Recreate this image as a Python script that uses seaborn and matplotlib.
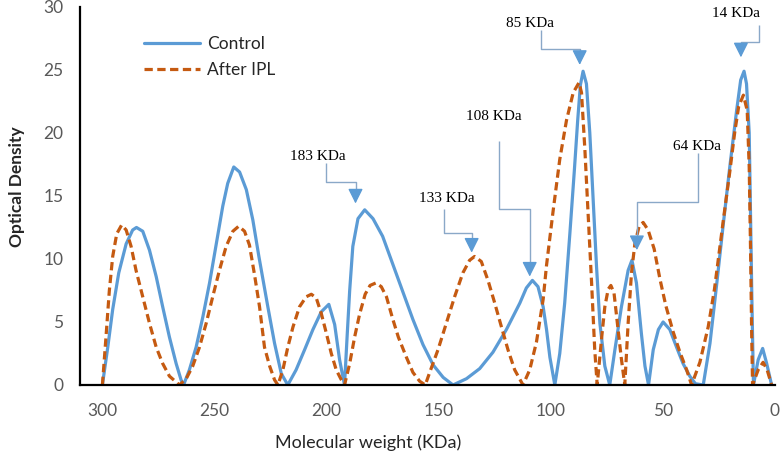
import pandas as pd
import matplotlib.pyplot as plt
import seaborn as sns

# densitometry trace (molecular weight in KDa, optical density)
control_kda = [300, 297.6, 295.4, 292.7, 289.4, 286.5, 284.8, 282.0, 279.0, 276.0, 273.1, 270.1, 267.1, 264.9, 263.8,
               261.2, 258.2, 255.2, 252.2, 249.2, 246.3, 244.1, 241.4, 238.8, 235.8, 232.9, 230.2, 226.2, 223.2, 220.2, 217.3,
               213.6, 209.8, 206.1, 202.4, 199.0, 196.4, 194.2, 192.0,
               190.8, 189.7, 188.3, 186.0, 183.0, 179.3, 175.0, 170.5, 166.0, 161.5, 157.0, 152.5, 148.0, 143.6,
               137.6, 131.7, 125.8, 119.8, 113.8, 110.9, 108.2, 105.7, 103.4, 101.9, 100.4, 98.2,
               96.0, 93.8, 91.5, 89.5, 88.0, 86.8, 85.6, 84.1, 82.6, 81.1, 79.6, 78.1, 75.9, 73.7,
               71.4, 68.5, 65.5, 63.8, 61.8, 59.6, 58.0, 56.4,
               54.3, 52.0, 49.9, 46.9, 43.9, 41.0, 38.0, 35.5, 32.0,
               29.0, 26.0, 23.1, 20.1, 17.1, 15.3, 13.8, 12.7, 11.5, 10.9, 10.3, 9.6,
               7.5, 5.5, 3.7, 1.5]
control_od = [0, 3.0, 6.0, 8.9, 11.2, 12.3, 12.5, 12.2, 10.7, 8.6, 6.2, 3.8, 1.7, 0.4, 0,
              1.2, 3.0, 5.4, 8.1, 11.2, 14.2, 16.0, 17.3, 16.9, 15.5, 13.1, 10.2, 6.2, 3.3, 0.9, 0,
              1.2, 2.8, 4.4, 5.8, 6.4, 4.8, 2.0, 0,
              4.0, 7.5, 11.0, 13.2, 13.9, 13.2, 11.8, 9.6, 7.4, 5.2, 3.2, 1.6, 0.6, 0,
              0.5, 1.3, 2.6, 4.4, 6.5, 7.7, 8.3, 7.8, 6.2, 4.4, 2.2, 0,
              2.5, 6.5, 12.0, 17.0, 21.0, 23.8, 24.9, 23.9, 20.0, 14.7, 9.4, 4.9, 1.5, 0,
              2.8, 6.2, 9.1, 9.9, 8.1, 4.1, 1.5, 0,
              2.8, 4.4, 5.0, 4.4, 3.0, 1.7, 0.7, 0.1, 0,
              3.3, 8.0, 12.7, 17.4, 21.8, 24.2, 24.9, 23.9, 20.0, 13.4, 6.7, 0,
              2.0, 2.9, 1.7, 0]

ipl_kda = [300, 298.4, 296.9, 295.4, 293.6, 291.4, 289.4, 287.2, 285.0, 282.0, 279.0, 276.0, 273.1, 270.1, 265.6,
           262.6, 259.7, 256.7, 253.7, 250.8, 247.8, 244.8, 241.8, 239.2, 236.6, 234.4, 232.1, 229.9, 227.7, 225.4, 223.2, 221.7,
           219.5, 217.3, 215.0, 212.1, 209.1, 206.8, 204.6, 202.4, 200.1, 197.9, 195.7, 193.4, 192.0,
           189.7, 187.5, 185.3, 182.8, 180.6, 178.0, 175.6, 173.3, 170.6, 168.0, 164.4, 161.5, 158.5, 156.0,
           154.0, 150.3, 146.6, 142.9, 139.2, 136.2, 134.0, 131.0, 128.0, 125.0, 122.0, 119.1, 116.1, 112.4,
           109.4, 106.4, 103.4, 101.9, 98.9, 96.0, 93.0, 90.0, 87.4, 86.3, 84.8, 83.3, 81.8, 80.4, 79.3,
           77.4, 75.9, 74.4, 73.2, 71.8, 70.3, 68.6, 67.0,
           65.5, 64.0, 62.5, 60.6, 58.8, 56.6, 53.9, 51.3, 48.7, 45.4, 42.4, 39.4, 37.2,
           33.5, 29.8, 27.0, 23.1, 20.1, 18.0, 16.2, 14.1, 12.4, 11.5, 10.9, 10.4, 10.0,
           7.5, 5.3, 3.5, 1.5]
ipl_od = [0, 3.8, 7.5, 10.2, 12.0, 12.7, 12.3, 11.0, 9.1, 7.0, 4.9, 3.0, 1.7, 0.7, 0,
          0.5, 1.5, 3.0, 4.9, 7.0, 9.1, 11.0, 12.2, 12.6, 12.2, 11.1, 8.7, 6.2, 3.0, 1.5, 0.4, 0,
          1.2, 3.0, 4.6, 6.2, 7.0, 7.2, 6.9, 5.7, 4.1, 2.5, 1.2, 0.4, 0,
          1.7, 3.8, 5.6, 7.2, 7.9, 8.1, 7.8, 7.0, 5.3, 3.8, 2.2, 1.0, 0.3, 0,
          1.0, 2.8, 4.9, 7.0, 8.9, 9.9, 10.2, 9.8, 8.3, 6.5, 4.6, 2.8, 1.2, 0,
          1.2, 3.4, 6.8, 9.5, 13.9, 17.9, 21.0, 23.2, 24.0, 23.2, 18.7, 13.4, 8.1, 2.8, 0,
          3.6, 6.2, 7.6, 7.9, 7.3, 4.9, 2.2, 0,
          4.9, 8.9, 11.2, 12.6, 12.9, 12.3, 10.8, 8.4, 6.3, 4.2, 2.6, 1.2, 0,
          1.8, 4.6, 7.6, 13.0, 17.0, 20.0, 22.1, 23.0, 21.8, 17.3, 10.7, 4.1, 0,
          1.2, 1.8, 1.2, 0]

# band callouts: label, text position, elbow, arrow tip (data units)
band_labels = ['183 KDa', '133 KDa', '108 KDa', '85 KDa', '14 KDa', '64 KDa']
label_x = [204.0, 146.4, 125.4, 109.4, 17.4, 34.8]
label_y = [18.1, 14.8, 21.3, 28.7, 29.5, 18.9]
start_x = [200.4, 147.8, 123.2, 104.2, 7.1, 34.4]
start_y = [17.6, 14.0, 19.4, 28.2, 28.6, 18.4]
elbow_y = [16.1, 12.1, 14.0, 26.7, 27.2, 14.5]
tip_x = [187.1, 135.3, 109.4, 87.1, 15.2, 61.6]
tip_y = [14.4, 10.5, 8.6, 25.4, 26.0, 10.7]

blue = '#5b9bd5'
orange = '#c55a11'

sns.set_style('white')
plt.rcParams['font.family'] = ['Lato', 'DejaVu Sans']

fig = plt.figure(figsize=(7.81, 4.61), dpi=100)
ax = fig.add_axes([0.1024, 0.1649, 0.8899, 0.8200])

control = pd.DataFrame({'kda': control_kda, 'od': control_od})
ipl = pd.DataFrame({'kda': ipl_kda, 'od': ipl_od})

sns.lineplot(data=control, x='kda', y='od', sort=False, estimator=None,
             color=blue, linewidth=2.3, label='Control', ax=ax)
sns.lineplot(data=ipl, x='kda', y='od', sort=False, estimator=None,
             color=orange, linewidth=2.3, label='After IPL', ax=ax)
ax.lines[1].set_dashes((2.6, 1.4))

# elbow connectors with arrow heads
for i, txt in enumerate(band_labels):
    ax.plot([start_x[i], start_x[i], tip_x[i], tip_x[i]],
            [start_y[i], elbow_y[i], elbow_y[i], tip_y[i] + 0.9],
            color='#8aa8c8', lw=1.0, solid_capstyle='butt')
    ax.annotate('', xy=(tip_x[i], tip_y[i]), xytext=(tip_x[i], tip_y[i] + 1.0),
                arrowprops=dict(arrowstyle='-|>,head_length=0.9,head_width=0.45',
                                color=blue, lw=1.0, shrinkA=0, shrinkB=0, mutation_scale=10))
    ax.text(label_x[i], label_y[i], txt, ha='center', va='center', fontsize=11,
            family=['Liberation Serif', 'DejaVu Serif'], color='black')

ax.set_xlim(310, 0)
ax.set_ylim(0, 30)
ax.set_xticks([300, 250, 200, 150, 100, 50, 0])
ax.set_yticks([0, 5, 10, 15, 20, 25, 30])
ax.tick_params(axis='both', length=0, labelsize=12.5, labelcolor='#595959')
ax.tick_params(axis='y', pad=12)
ax.tick_params(axis='x', pad=13)

for side in ['top', 'right']:
    ax.spines[side].set_visible(False)
for side in ['left', 'bottom']:
    ax.spines[side].set_color('black')
    ax.spines[side].set_linewidth(1.6)

ax.set_xlabel('Molecular weight (KDa)', fontsize=13, color='#262626')
ax.set_ylabel('Optical Density', fontsize=12.5, color='#262626', fontweight='bold')
ax.xaxis.set_label_coords(0.414, -0.13)
ax.yaxis.set_label_coords(-0.079, 0.524)

ax.legend(loc='upper left', bbox_to_anchor=(0.07, 0.965), frameon=False, fontsize=12.5,
          handlelength=3.2, handletextpad=0.4, labelspacing=0.6, labelcolor='#262626')

fig.savefig('out.png', dpi=100)
